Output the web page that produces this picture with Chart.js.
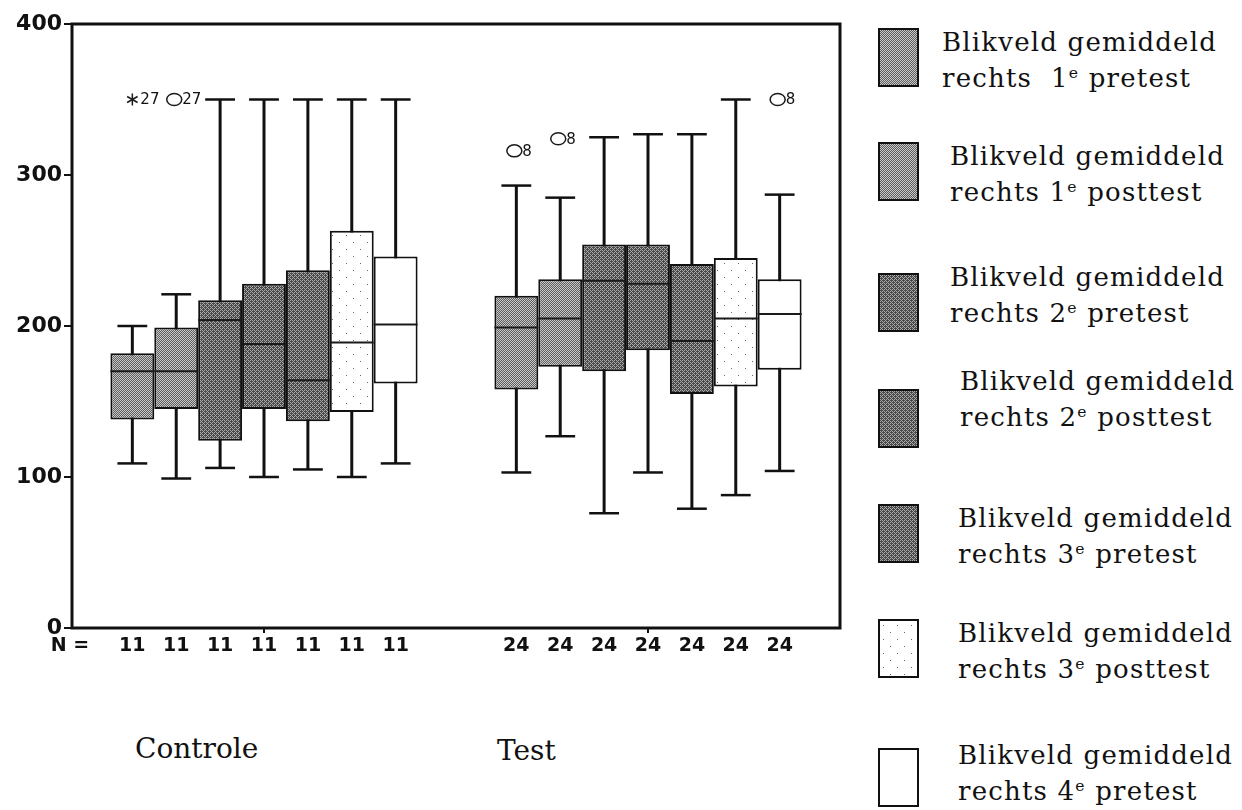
<!DOCTYPE html>
<html>
<head>
<meta charset="utf-8">
<title>Blikveld gemiddeld rechts</title>
<script src="https://cdn.jsdelivr.net/npm/chart.js@4.4.0/dist/chart.umd.min.js"></script>
<style>
  html, body { margin: 0; padding: 0; background: #fff; }
  body { width: 1242px; height: 810px; position: relative; overflow: hidden; }
  #plotWrap { position: absolute; left: 0; top: 0; width: 850px; height: 700px; }
  .group-name { position: absolute; font-family: 'DejaVu Serif', serif; font-size: 28px; line-height: 36px; color: #111; white-space: nowrap; }
  .swatch { position: absolute; width: 41px; height: 59px; border: 2px solid #111; box-sizing: border-box; image-rendering: pixelated; }
  .legend-text { position: absolute; font-family: 'DejaVu Serif', serif; font-size: 26px; line-height: 36px; letter-spacing: 1.2px; color: #111; white-space: pre; }
  .legend-text sup { font-size: 0.6em; vertical-align: 0.6em; line-height: 0; }
</style>
</head>
<body>
<div id="plotWrap"><canvas id="boxChart" width="850" height="700"></canvas></div>
<div class="group-name" style="left:135px; top:731px;">Controle</div>
<div class="group-name" style="left:497px; top:733px;">Test</div>
<div id="legend"></div>

<script>
// groups on the x axis and the seven measurements per group
const groups = ['Controle', 'Test'];
const ordinals = ['1', '1', '2', '2', '3', '3', '4'];
const moments = ['pretest', 'posttest', 'pretest', 'posttest', 'pretest', 'posttest', 'pretest'];

// box statistics, Controle group (N = 11)
const controleN = [11, 11, 11, 11, 11, 11, 11];
const controleMin = [109, 99, 106, 100, 105, 100, 109];
const controleQ1 = [138, 145, 124, 145, 137, 143, 162];
const controleMedian = [170, 170, 204, 188, 164, 189, 201];
const controleQ3 = [182, 199, 217, 228, 237, 263, 246];
const controleMax = [200, 221, 350, 350, 350, 350, 350];

// box statistics, Test group (N = 24)
const testN = [24, 24, 24, 24, 24, 24, 24];
const testMin = [103, 127, 76, 103, 79, 88, 104];
const testQ1 = [158, 173, 170, 184, 155, 160, 171];
const testMedian = [199, 205, 230, 228, 190, 205, 208];
const testQ3 = [220, 231, 254, 254, 241, 245, 231];
const testMax = [293, 285, 325, 327, 327, 350, 287];

// outlying cases: group index, measurement index, value, case number, kind
const outlierGroup = [0, 0, 1, 1, 1];
const outlierSeries = [0, 1, 0, 1, 6];
const outlierValue = [350, 350, 316, 324, 350];
const outlierCase = ['27', '27', '8', '8', '8'];
const outlierKind = ['extreme', 'outlier', 'outlier', 'outlier', 'outlier'];

const yTicks = [0, 100, 200, 300, 400];

const seriesLabels = ordinals.map((ord, i) => `Blikveld gemiddeld rechts ${ord}e ${moments[i]}`);

// halftone-like fills
const bayer4 = [[0, 8, 2, 10], [12, 4, 14, 6], [3, 11, 1, 9], [15, 7, 13, 5]];
const ditherTile = (level, dark, light) => {
  const c = document.createElement('canvas');
  c.width = 4; c.height = 4;
  const g = c.getContext('2d');
  for (let r = 0; r < 4; r++) {
    for (let k = 0; k < 4; k++) {
      g.fillStyle = (bayer4[r][k] + 0.5) / 16 < level ? light : dark;
      g.fillRect(k, r, 1, 1);
    }
  }
  return c;
};
const dottedTile = () => {
  const c = document.createElement('canvas');
  c.width = 14; c.height = 14;
  const g = c.getContext('2d');
  g.fillStyle = '#fff';
  g.fillRect(0, 0, 14, 14);
  g.fillStyle = '#666';
  g.fillRect(3, 4, 1, 1);
  g.fillRect(10, 11, 1, 1);
  return c;
};
const plainTile = () => {
  const c = document.createElement('canvas');
  c.width = 2; c.height = 2;
  const g = c.getContext('2d');
  g.fillStyle = '#fff';
  g.fillRect(0, 0, 2, 2);
  return c;
};

const lightTile = ditherTile(0.5, '#5e5e5e', '#c8c8c8');
const darkTile = ditherTile(0.4, '#484848', '#ababab');
const tiles = [lightTile, lightTile, darkTile, darkTile, darkTile, dottedTile(), plainTile()];

const canvas = document.getElementById('boxChart');
const ctx = canvas.getContext('2d');
const fills = tiles.map((t) => ctx.createPattern(t, 'repeat'));

const statsFor = (i) => ({
  lows: [controleMin[i], testMin[i]],
  medians: [controleMedian[i], testMedian[i]],
  highs: [controleMax[i], testMax[i]],
  counts: [controleN[i], testN[i]],
});

const datasets = seriesLabels.map((label, i) => ({
  label,
  data: [[controleQ1[i], controleQ3[i]], [testQ1[i], testQ3[i]]],
  ...statsFor(i),
  backgroundColor: fills[i],
  borderColor: '#111',
  borderWidth: 2,
  borderSkipped: false,
  categoryPercentage: 0.8,
  barPercentage: 1.0,
}));

const drawLine = (g, x1, y1, x2, y2) => {
  g.beginPath();
  g.moveTo(x1, y1);
  g.lineTo(x2, y2);
  g.stroke();
};

const boxPlotExtras = {
  id: 'boxPlotExtras',
  beforeDatasetsDraw(chart) {
    const g = chart.ctx;
    const y = chart.scales.y;
    g.save();
    g.strokeStyle = '#111';
    chart.data.datasets.forEach((ds, i) => {
      chart.getDatasetMeta(i).data.forEach((bar, j) => {
        const top = y.getPixelForValue(ds.highs[j]);
        const bottom = y.getPixelForValue(ds.lows[j]);
        g.lineWidth = 3;
        drawLine(g, bar.x, top, bar.x, bottom);
        g.lineWidth = 2.5;
        const half = bar.width * 0.34;
        drawLine(g, bar.x - half, top, bar.x + half, top);
        drawLine(g, bar.x - half, bottom, bar.x + half, bottom);
      });
    });
    g.restore();
  },
  afterDatasetsDraw(chart) {
    const g = chart.ctx;
    const y = chart.scales.y;
    g.save();
    g.strokeStyle = '#1a1a1a';
    g.lineWidth = 2;
    chart.data.datasets.forEach((ds, i) => {
      chart.getDatasetMeta(i).data.forEach((bar, j) => {
        const my = y.getPixelForValue(ds.medians[j]);
        drawLine(g, bar.x - bar.width / 2, my, bar.x + bar.width / 2, my);
      });
    });

    // outlying cases with their case numbers
    g.font = '15px "DejaVu Sans"';
    g.fillStyle = '#111';
    g.textBaseline = 'middle';
    g.textAlign = 'left';
    outlierValue.forEach((value, k) => {
      const bar = chart.getDatasetMeta(outlierSeries[k]).data[outlierGroup[k]];
      const py = y.getPixelForValue(value);
      g.lineWidth = 1.5;
      if (outlierKind[k] === 'extreme') {
        for (let a = 0; a < 3; a++) {
          const ang = Math.PI / 2 + (a * Math.PI) / 3;
          drawLine(g, bar.x - Math.cos(ang) * 6, py - Math.sin(ang) * 6, bar.x + Math.cos(ang) * 6, py + Math.sin(ang) * 6);
        }
        g.fillText(outlierCase[k], bar.x + 8, py + 1);
      } else {
        g.beginPath();
        g.ellipse(bar.x - 2, py, 7.5, 6, 0, 0, Math.PI * 2);
        g.stroke();
        g.fillText(outlierCase[k], bar.x + 6, py + 1);
      }
    });
    g.restore();
  },
  afterDraw(chart) {
    const g = chart.ctx;
    const area = chart.chartArea;
    g.save();
    g.strokeStyle = '#111';
    g.lineWidth = 3;
    g.strokeRect(area.left, area.top, area.right - area.left, area.bottom - area.top);

    // group sizes under every box
    g.fillStyle = '#111';
    g.font = 'bold 19px "DejaVu Sans"';
    g.textAlign = 'center';
    g.textBaseline = 'middle';
    const rowY = area.bottom + 18;
    g.fillText('N =', 70, rowY);
    chart.data.datasets.forEach((ds, i) => {
      chart.getDatasetMeta(i).data.forEach((bar, j) => {
        g.fillText(String(ds.counts[j]), bar.x, rowY);
      });
    });
    g.restore();
  },
};

new Chart(ctx, {
  type: 'bar',
  data: { labels: groups, datasets },
  options: {
    responsive: false,
    animation: false,
    devicePixelRatio: 1,
    layout: { padding: { top: 24, right: 10, left: 0, bottom: 0 } },
    plugins: {
      legend: { display: false },
      tooltip: { enabled: false },
    },
    scales: {
      x: {
        grid: { drawOnChartArea: false, drawTicks: true, tickLength: 5, color: '#111', lineWidth: 2, offset: false },
        border: { display: false },
        ticks: { display: false },
        afterFit: (scale) => { scale.height = 72; },
      },
      y: {
        min: 0,
        max: 400,
        afterBuildTicks: (scale) => { scale.ticks = yTicks.map((value) => ({ value })); },
        grid: { drawOnChartArea: false, drawTicks: true, tickLength: 8, color: '#111', lineWidth: 2 },
        border: { display: false },
        ticks: {
          color: '#111',
          padding: 2,
          font: { family: 'DejaVu Sans', weight: 'bold', size: 22 },
        },
        afterFit: (scale) => { scale.width = 72; },
      },
    },
  },
  plugins: [boxPlotExtras],
});

// legend on the right, one swatch and two text lines per measurement
const swatchTops = [28, 142, 273, 389, 504, 619, 748];
const textLefts = [942, 950, 950, 960, 958, 958, 958];
const textCapTops = [32, 146, 267, 371, 508, 623, 745];
const legendEl = document.getElementById('legend');
ordinals.forEach((ord, i) => {
  const sw = document.createElement('div');
  sw.className = 'swatch';
  sw.style.left = '878px';
  sw.style.top = `${swatchTops[i]}px`;
  sw.style.backgroundImage = `url(${tiles[i].toDataURL()})`;
  legendEl.appendChild(sw);

  const tx = document.createElement('div');
  tx.className = 'legend-text';
  tx.style.left = `${textLefts[i]}px`;
  tx.style.top = `${textCapTops[i] - 8}px`;
  const gap = i === 0 ? '  ' : ' ';
  tx.innerHTML = `Blikveld gemiddeld\nrechts${gap}${ord}<sup>e</sup> ${moments[i]}`;
  legendEl.appendChild(tx);
});
</script>
</body>
</html>
